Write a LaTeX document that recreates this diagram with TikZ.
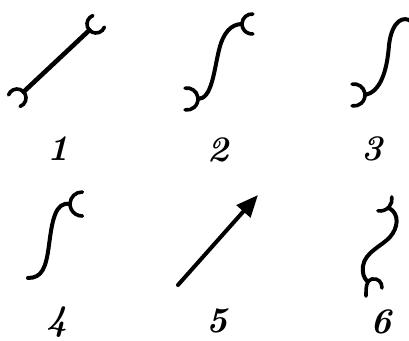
\documentclass[tikz,border=0pt]{standalone}
\usepackage{tikz}
\usetikzlibrary{arrows.meta,calc}
\tikzset{
  bond/.style={line width=4pt,line cap=round,line join=round},
  jaw/.style={line width=3.6pt,line cap=round},
  fork/.style={line width=3.6pt,line cap=round},
  num/.style={font=\fontsize{36}{36}\selectfont\bfseries\itshape,inner sep=1pt},
}

\begin{document}
\begin{tikzpicture}[x=1pt,y=-1pt]
  \useasboundingbox[fill=white] (0,0) rectangle (409,340);
  % 1: straight bond with open jaws
  \coordinate (j1a) at (17,98);
  \coordinate (j1b) at (96,24);
  \draw[bond,line width=4.6pt] ($(j1a)+(-43:9)$) -- ($(j1b)+(137:9)$);
  \draw[jaw] (j1a) ++(-160:9) arc[start angle=-160,end angle=70,radius=9];
  \draw[jaw] (j1b) ++(-110:9) arc[start angle=-110,end angle=-340,radius=9];
  % 2: S curve, forks at both ends
  \coordinate (b2) at (198,99);
  \coordinate (t2) at (242,24);
  \draw[bond] (b2) .. controls (212,99) and (214,70) .. (219,50)
                   .. controls (223,33) and (231,24) .. (t2);
  \draw[fork] (187,99) ++(-100:11) arc[start angle=-100,end angle=100,radius=11];
  \draw[fork] (252,24) ++(-85:10) arc[start angle=-85,end angle=-275,radius=10];
  % 3: fork at the foot only
  \coordinate (b3) at (365,95);
  \coordinate (t3) at (412,22);
  \draw[bond] (t3) .. controls (404,15) and (392,20) .. (389,45)
                   .. controls (387,72) and (380,92) .. (b3);
  \draw[fork] (354,95) ++(-100:11) arc[start angle=-100,end angle=100,radius=11];
  % 4: fork at the head only
  \coordinate (t4) at (70,204);
  \coordinate (e4) at (28,278);
  \draw[bond] (t4) .. controls (55,201) and (52,222) .. (49,245)
                   .. controls (46,268) and (42,278) .. (e4);
  \draw[fork] (82,204) ++(-88:12) arc[start angle=-88,end angle=-272,radius=12];
  % 5: arrow
  \coordinate (s5) at (178,285);
  \coordinate (h5) at (258,195);
  \draw[bond,-{Triangle[length=22pt,width=18pt]}] (s5) -- (h5);
  % 6: twisted bond, forks at both ends
  \coordinate (t6) at (389,208);
  \coordinate (b6) at (367,281);
  \draw[bond] (t6) .. controls (400,214) and (398,228) .. (390,237)
                   .. controls (382,246) and (365,252) .. (363,266)
                   .. controls (362,273) and (364,278) .. (b6);
  \draw[fork] (380,199) ++(100:12) arc[start angle=100,end angle=-10,radius=12];
  \draw[fork] (366,296) .. controls (366,288) and (366,280) .. (372,279)
                        .. controls (378,278) and (382,282) .. (382,288);
  % labels
  \foreach \n/\x/\y in {1/58/149,2/218/150,3/372/149,4/57/322,5/217/321,6/381/322}
    \node[num] (n\n) at (\x,\y) {\n};
\end{tikzpicture}
\end{document}
